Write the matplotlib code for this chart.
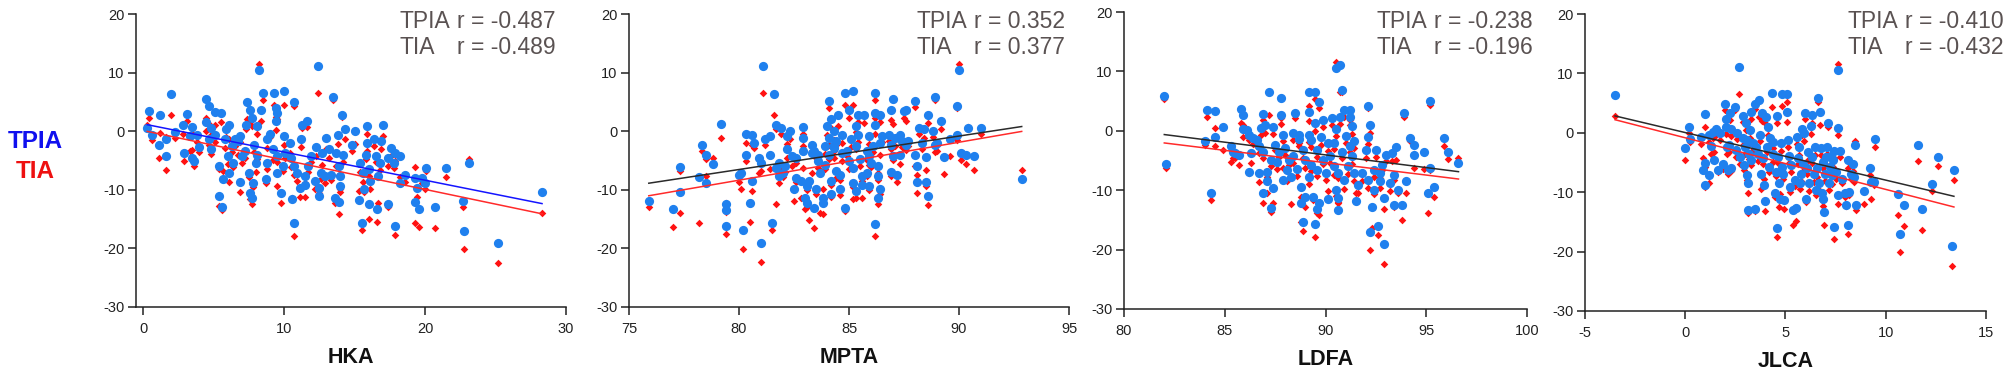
import matplotlib
matplotlib.use("Agg")
import matplotlib.pyplot as plt
import numpy as np

plt.rcParams["font.family"] = ["Liberation Sans", "DejaVu Sans"]
plt.rcParams["axes.unicode_minus"] = False  # plain hyphen for negative ticks

# --- data: one (x, TPIA, TIA) triple per knee ---
hka = [0.3, 0.4, 0.6, 1.2, 1.1, 1.6, 1.6, 2.0, 2.3, 2.8, 2.9, 3.1, 3.3, 3.5, 3.5, 3.6, 3.8, 4.0,
       4.5, 4.7, 4.5, 4.8, 4.8, 5.1, 4.7, 5.1, 5.4, 5.4, 5.5, 5.6, 5.7, 5.8, 5.9, 6.0, 6.1, 6.1,
       6.3, 6.4, 6.5, 6.7, 6.9, 6.9, 7.0, 7.2, 7.3, 7.4, 7.5, 7.6, 7.7, 7.6, 7.7, 7.8, 7.9, 8.0,
       8.1, 8.2, 8.1, 8.4, 8.5, 8.7, 8.8, 8.8, 9.0, 9.2, 9.3, 9.4, 9.4, 9.5, 9.5, 9.5, 9.8, 10.0,
       10.0, 9.9, 10.1, 10.4, 10.5, 10.6, 10.7, 10.7, 10.7, 10.9, 11.1, 11.2, 11.3, 11.5, 11.5,
       11.6, 11.7, 11.9, 12.2, 12.3, 12.4, 12.5, 12.5, 12.6, 12.7, 12.9, 13.0, 13.2, 13.3, 13.5,
       13.6, 13.7, 13.8, 13.9, 13.9, 14.0, 14.0, 14.1, 14.2, 14.3, 14.8, 15.0, 15.3, 15.4, 15.5,
       15.6, 15.7, 15.8, 15.9, 15.9, 16.0, 16.0, 16.1, 16.4, 16.5, 16.6, 16.7, 16.8, 16.9, 17.0,
       17.4, 17.4, 17.6, 17.8, 17.9, 17.9, 18.2, 18.2, 18.6, 19.3, 19.3, 19.4, 19.6, 19.8, 20.0,
       20.1, 20.7, 21.5, 22.7, 22.8, 23.1, 25.2, 28.3]
hka_tpia = [0.6, 3.4, -0.6, 2.8, -2.4, -1.3, -4.3, 6.4, -0.1, 1.1, -3.7, 3.0, -0.9, 0.7, -4.5, -5.1, -0.6, -2.7,
            5.5, 4.3, 1.5, 0.6, -3.1, 3.3, -1.4, -0.6, -6.0, -11.1, 3.1, -13.0, -8.2, -1.4, 0.3, -4.3, 1.1, -7.1,
            -2.6, -5.4, -1.4, -1.7, -0.9, -8.7, -4.3, -3.4, 1.0, 4.9, -7.1, 3.7, 2.3, -10.5, -11.4, -8.8, -2.3, -5.4,
            0.9, 10.5, -4.0, 3.7, 6.6, -8.2, -5.4, -1.4, -0.4, -3.1, 6.6, 4.0, 1.7, 3.1, -7.1, -4.3, -10.5, 6.8,
            -0.9, -6.0, -3.7, -2.0, -4.5, -11.5, -15.7, 5.0, -6.0, -7.1, -9.7, -1.4, 1.1, -7.7, -9.1,
            1.7, -6.0, -4.3, -8.5, -2.7, 11.1, -9.7, -11.1, -7.1, -3.8, -7.7, -1.1, -3.1, -7.4, 5.9,
            -11.4, -3.7, -0.7, -6.0, -12.0, -7.7, -9.4, 2.8, -4.0, 0.4, -2.3, 0.0, -11.8, -5.4, -15.6,
            -7.2, -9.9, -4.0, 0.9, -2.0, -12.5, -6.5, -8.5, -1.4, -4.3, -13.2, -7.7, -5.4, -1.7, 1.1,
            -4.5, -12.5, -2.8, -5.4, -16.1, -3.7, -4.3, -8.8, -7.4, -12.1, -8.0, -9.7, -13.2, -8.0, -8.8,
            -6.2, -12.9, -6.2, -11.9, -17.0, -5.5, -19.1, -10.3]
hka_tia = [1.0, 2.3, -1.5, -0.3, -4.5, -1.0, -6.6, 2.8, -1.2, -0.5, -5.0, 1.8, -3.3, -0.3, -3.2, -5.9, -1.8, -3.5,
           2.2, 1.3, 0.1, -0.6, -3.9, 1.0, -2.3, -1.9, -6.5, -12.8, 1.6, -13.4, -6.8, -2.8, -1.0, -5.6, -1.3, -8.6,
           -3.6, -6.1, -2.6, -4.0, -1.9, -10.4, -5.5, -4.5, 0.4, 2.1, -7.9, 1.6, 0.9, -11.6, -12.4, -9.6, -3.6, -6.9,
           -0.4, 11.5, -4.8, 1.8, 5.3, -8.8, -6.5, -2.9, -1.0, -4.9, 4.4, 2.5, 0.2, 2.0, -9.4, -5.2, -12.2, 4.4,
           -2.3, -6.8, -4.6, -3.8, -6.1, -11.4, -17.8, 4.3, -7.4, -8.5, -11.2, -2.7, 0.5, -8.9, -11.3,
           0.8, -6.9, -5.3, -9.9, -4.2, 6.6, -10.6, -11.0, -8.2, -5.7, -8.9, -3.0, -4.6, -8.4, 5.4,
           -12.3, -6.0, -2.2, -7.5, -14.1, -9.9, -10.4, 2.4, -5.2, -1.3, -3.4, -2.1, -10.2, -7.0, -16.9,
           -8.6, -10.4, -4.8, -0.5, -3.4, -14.9, -7.6, -9.9, -2.6, -5.3, -15.5, -12.3, -6.6, -3.0, -0.9,
           -5.9, -12.9, -4.2, -6.3, -17.7, -5.0, -7.8, -8.8, -8.6, -15.6, -6.1, -11.2, -16.3, -8.9, -9.8,
           -6.8, -16.5, -7.9, -12.9, -20.1, -4.7, -22.5, -13.9]

mpta = [75.9, 77.0, 77.3, 77.3, 78.2, 78.3, 78.5, 78.5, 78.8, 79.2, 79.4, 79.4, 79.4, 80.0, 80.1, 80.2,
        80.3, 80.3, 80.6, 80.6, 80.5, 80.7, 80.9, 81.0, 81.0, 81.1, 81.2, 81.4, 81.4, 81.5, 81.6, 81.7,
        81.7, 81.8, 81.8, 81.9, 82.0, 82.1, 82.2, 82.2, 82.3, 82.4, 82.5, 82.6, 82.6, 82.8, 82.9, 82.9,
        82.9, 83.0, 83.1, 83.1, 83.2, 83.3, 83.3, 83.4, 83.4, 83.5, 83.6, 83.6, 83.7, 83.8, 83.8, 83.9,
        83.9, 84.0, 84.1, 84.1, 84.1, 84.2, 84.2, 84.2, 84.3, 84.3, 84.4, 84.3, 84.4, 84.5, 84.6, 84.6,
        84.7, 84.7, 84.8, 84.8, 84.9, 85.0, 85.0, 85.1, 85.2, 85.2, 85.2, 85.3, 85.3, 85.3, 85.4, 85.4,
        85.5, 85.6, 85.6, 85.7, 85.8, 85.8, 85.9, 85.9, 85.9, 86.0, 86.1, 86.2, 86.2, 86.2, 86.2, 86.3,
        86.3, 86.3, 86.4, 86.4, 86.4, 86.5, 86.8, 86.9, 86.9, 87.0, 86.9, 87.0, 87.1, 87.2, 87.3, 87.3,
        87.4, 87.5, 87.6, 87.6, 87.7, 88.0, 88.0, 88.1, 88.1, 88.2, 88.3, 88.4, 88.5, 88.5, 88.6, 88.6,
        88.8, 88.9, 88.9, 89.0, 89.2, 89.3, 89.6, 89.9, 89.9, 90.0, 90.1, 90.3, 90.4, 90.7, 91.0, 92.85]
mpta_tpia = [-11.9, -13.2, -6.1, -10.3, -7.8, -2.3, -4.1, -8.9, -5.6, 1.3, -12.5, -13.4, -16.1, -7.4, -7.2, -16.9,
             -4.1, -0.5, -0.6, -8.5, -12.2, -2.0, -4.5, -5.4, -19.1, 11.1, -1.4, -4.0, -0.9, -15.6, 6.4, 1.1,
             -6.3, -7.7, -5.4, 0.6, -7.1, -6.0, -0.9, -3.1, 0.0, -4.3, -9.9, -8.0, -4.5, -8.5, -3.4, 0.7,
             -1.1, -11.4, -9.4, -12.2, -8.5, -2.3, -3.7, -13.1, -3.4, -9.9, -4.0, -5.1, -7.2, -11.4, -12.2, -5.7,
             -2.6, 0.9, 5.1, -4.0, -1.1, -8.5, -10.8, 2.0, -2.3, -2.8, -6.8, 0.0, -1.7, 2.8, -9.9, -7.4,
             -3.8, -0.7, 6.6, -13.1, -3.4, -5.1, 3.7, -1.4, -6.3, -8.8, 6.8, 0.9, -10.2, -2.6, 2.8, -0.6,
             -4.8, -7.7, -9.1, 2.8, -3.4, -7.1, -0.9, -9.4, -4.3, -5.4, -2.6, 1.0, 6.5, -15.8, 3.1, -11.4,
             -6.0, -7.7, -2.0, 2.7, -9.9, -0.9, -0.6, -2.3, -7.0, 5.5, 3.7, -4.3, -1.1, -7.4, -0.6, -4.0,
             -1.7, 3.4, 3.7, -2.3, -1.7, 5.1, -4.1, -6.0, -8.7, 0.6, -2.0, 0.3, -4.4, -8.7, -11.1, 2.8,
             0.0, 5.9, -2.4, -2.0, 1.7, -4.4, -1.3, 4.3, -0.6, 10.5, -3.7, -4.0, 0.6, -4.3, 0.6, -8.1]
mpta_tia = [-12.9, -16.4, -6.8, -13.9, -15.6, -3.4, -4.8, -7.7, -4.5, -1.1, -12.3, -13.8, -17.6, -8.7, -9.8, -20.1,
            -5.1, -2.0, -2.3, -10.2, -15.5, -2.8, -7.1, -6.8, -22.4, 6.5, -2.3, -6.5, -0.9, -16.9, 2.8, 0.3,
            -12.5, -8.8, -6.2, -0.4, -7.9, -6.9, -2.1, -4.5, -1.4, -6.0, -11.9, -8.6, -5.4, -11.4, -6.2, -0.5,
            -2.6, -13.2, -10.0, -12.9, -15.1, -3.3, -7.1, -16.5, -4.2, -10.8, -5.0, -6.3, -13.9, -9.9, -14.1, -6.4,
            -3.9, -0.6, 4.0, -4.8, -2.3, -9.1, -11.3, 0.6, -3.4, -4.6, -8.0, -1.5, -2.4, 0.9, -10.9, -8.3,
            -5.0, -2.0, 4.4, -13.6, -4.3, -6.5, 2.2, -2.7, -11.6, -9.6, 4.4, -0.2, -11.4, -3.0, 1.5, -1.8,
            -5.9, -8.5, -11.4, 1.4, -4.9, -7.6, -2.2, -10.0, -5.8, -6.1, -3.5, -0.5, 5.3, -17.8, 2.2, -12.5,
            -7.1, -8.4, -4.0, 1.6, -10.7, -1.9, -1.6, -3.1, -7.6, 1.3, 1.9, -4.9, -2.5, -8.7, -1.6, -5.6,
            -2.7, 2.2, 1.8, -3.2, -2.6, 4.2, -5.9, -7.5, -10.5, -0.5, -3.0, -1.1, -6.7, -9.4, -12.6, 1.4,
            -1.0, 5.3, -3.6, -3.4, 0.3, -7.3, -4.2, 3.9, -1.5, 11.5, -4.9, -5.6, 0.8, -6.6, -0.5, -6.7]

ldfa = [82.0, 82.1, 84.0, 84.1, 84.3, 84.5, 84.5, 84.9, 85.3, 85.4, 85.5, 85.7, 85.8, 85.9, 85.9, 86.1,
        86.2, 86.2, 86.3, 86.4, 86.6, 86.7, 86.7, 86.8, 86.9, 86.9, 86.9, 87.0, 87.1, 87.1, 87.2, 87.3,
        87.3, 87.4, 87.4, 87.5, 87.6, 87.7, 87.8, 87.8, 87.9, 87.9, 88.0, 88.1, 88.2, 88.3, 88.4, 88.4,
        88.5, 88.6, 88.7, 88.7, 88.8, 88.8, 88.9, 88.9, 89.0, 89.0, 89.2, 89.2, 89.2, 89.2, 89.3, 89.3,
        89.4, 89.5, 89.5, 89.5, 89.6, 89.6, 89.6, 89.7, 89.7, 89.8, 89.9, 89.9, 90.0, 90.1, 90.1, 90.2,
        90.3, 90.4, 90.4, 90.5, 90.5, 90.5, 90.6, 90.6, 90.6, 90.7, 90.7, 90.8, 90.8, 90.9, 90.9, 91.0,
        91.1, 91.2, 91.2, 91.2, 91.3, 91.3, 91.4, 91.4, 91.5, 91.6, 91.8, 92.0, 92.1, 92.1, 92.1, 92.2,
        92.2, 92.3, 92.4, 92.4, 92.5, 92.6, 92.7, 92.7, 92.8, 92.9, 92.9, 93.0, 93.2, 93.3, 93.4, 93.4,
        93.5, 93.6, 93.8, 93.9, 94.0, 94.2, 94.4, 94.4, 94.9, 95.1, 95.2, 95.2, 95.4, 95.9, 96.1, 96.6]
ldfa_tpia = [5.9, -5.6, -1.8, 3.5, -10.4, 3.3, -1.0, 0.7, -2.6, -3.5, -3.8, -4.0, 3.7, 2.7, 0.3, 0.2,
             -6.9, -0.7, -3.8, -1.2, -1.5, -2.6, -7.1, 0.4, 2.9, -10.4, -3.5, 1.0, -8.5, -7.0, 6.5, -4.9,
             -13.0, -9.7, 0.6, -2.4, -5.3, -3.5, 5.5, 2.7, -0.7, -8.3, -2.9, -6.6, -4.9, -7.7, -0.4, -4.3,
             3.0, -6.5, -1.4, -0.7, -9.4, -12.1, -15.4, -3.2, -4.9, -11.1, -0.7, 6.5, 3.1, -7.7, -1.5, -5.7,
             -11.1, 6.5, 1.3, -15.7, -13.2, -3.2, -6.6, 4.9, -12.1, -1.0, 1.9, -4.9, -7.1, -2.1, -11.5, -4.3,
             2.1, -6.0, -2.1, 10.6, 0.3, -9.9, -7.1, -13.3, -11.3, 11.0, 2.4, 6.8, -3.5, -8.3, 3.5, -0.8,
             -6.0, -2.6, 3.5, 2.4, 0.8, -4.3, -7.1, -1.8, -11.9, -9.1, -7.1, -3.2, -8.3, 4.2, -1.0, -17.0,
             1.0, -12.9, -6.6, -9.9, -3.2, -16.1, -7.1, -8.5, -5.7, -19.1, -11.3, -4.0, -8.8, -3.8, -7.4, -12.5,
             -2.8, -9.9, -12.5, 3.0, -8.5, -1.2, -2.4, -4.0, -3.5, -10.4, 5.1, -6.3, -9.5, -1.2, -3.5, -5.4]
ldfa_tia = [5.3, -6.3, -2.4, 2.4, -11.6, 0.4, -2.5, -3.2, -5.2, -4.5, -4.6, -5.7, 1.3, 0.9, -1.0, -0.8,
            -7.1, -1.6, -5.5, -2.3, -2.6, -3.8, -8.7, -0.7, 1.9, -12.2, -4.6, -0.3, -10.5, -7.8, 2.7, -5.9,
            -13.6, -12.1, -0.5, -3.3, -6.4, -4.4, 2.1, 1.2, -1.8, -6.3, -4.1, -8.5, -5.7, -12.3, -1.6, -5.4,
            2.1, -7.6, -2.5, -2.0, -11.1, -15.4, -16.8, -4.5, -6.2, -12.8, -1.9, 4.2, 1.7, -8.9, -2.7, -6.7,
            -11.6, 5.3, -0.1, -17.8, -13.9, -4.4, -7.6, 3.8, -14.2, -2.4, 0.6, -5.6, -8.3, -3.4, -10.2, -5.4,
            0.9, -7.4, -3.1, 11.5, -0.9, -10.9, -8.0, -12.2, -12.0, 6.6, 1.2, 6.5, -4.6, -9.8, 2.4, -2.1,
            -7.3, -3.6, 1.8, 1.0, -0.6, -5.6, -8.4, -2.9, -10.4, -10.4, -8.5, -4.6, -9.7, 3.9, -2.3, -20.1,
            -0.4, -16.4, -7.8, -10.6, -4.4, -17.5, -8.0, -9.6, -6.6, -22.4, -13.2, -5.1, -10.2, -5.0, -8.3, -12.9,
            -4.9, -10.5, -15.0, 2.4, -10.4, -1.7, -3.9, -6.3, -6.4, -13.9, 4.4, -6.6, -11.2, -2.6, -4.8, -4.6]

jlca = [-3.5, 0.0, 0.2, 0.25, 0.8, 0.9, 1.0, 1.0, 1.0, 1.2, 1.2, 1.3, 1.4, 1.45, 1.55, 1.65, 1.75, 1.9,
        2.0, 2.05, 2.05, 2.1, 2.15, 2.2, 2.25, 2.3, 2.3, 2.5, 2.55, 2.6, 2.7, 2.75, 2.9, 2.9, 2.95, 3.0,
        3.05, 3.1, 3.1, 3.15, 3.15, 3.2, 3.25, 3.3, 3.3, 3.4, 3.5, 3.5, 3.55, 3.65, 3.7, 3.75, 3.8, 3.85,
        3.9, 3.95, 4.0, 4.05, 4.1, 4.15, 4.2, 4.25, 4.35, 4.4, 4.4, 4.5, 4.55, 4.6, 4.6, 4.65, 4.7, 4.75,
        4.8, 4.85, 4.85, 4.9, 4.95, 5.05, 5.05, 5.1, 5.15, 5.2, 5.25, 5.35, 5.45, 5.5, 5.55, 5.6, 5.65,
        5.7, 5.75, 5.8, 5.85, 5.9, 5.95, 6.0, 6.05, 6.1, 6.15, 6.25, 6.3, 6.3, 6.4, 6.45, 6.5, 6.55, 6.6,
        6.65, 6.7, 6.75, 6.8, 6.85, 6.85, 6.9, 6.95, 7.0, 7.05, 7.1, 7.15, 7.2, 7.25, 7.3, 7.35, 7.4,
        7.4, 7.5, 7.6, 7.6, 7.6, 7.7, 7.8, 7.95, 8.0, 8.1, 8.1, 8.15, 8.25, 8.35, 8.4, 8.45, 8.5, 8.9,
        9.2, 9.25, 9.4, 9.45, 10.6, 10.7, 10.9, 11.6, 11.8, 12.3, 12.6, 13.3, 13.4]
jlca_tpia = [6.3, -2.5, 1.0, -1.1, -0.7, -6.2, 3.1, -5.1, -8.8, -0.4, -7.1, -2.2, 0.2, -4.6, 0.7, -6.3, -0.1, -5.2,
             4.9, 1.0, 2.4, -2.4, -6.3, -2.1, 3.3, 0.7, -6.0, 4.3, -2.9, 0.0, 11.0, -4.0, 2.8, -0.8, -5.4, -2.4,
             1.6, -7.1, -1.2, -8.5, -13.0, -3.5, 0.4, 3.5, -4.6, -1.8, -12.8, 4.9, -2.4, -3.5, 5.5, -0.4, -6.9, 3.3,
             -4.3, -8.8, -11.5, 2.7, -2.4, 1.0, -5.7, -0.8, 6.7, -3.5, -1.5, -10.1, -6.6, 2.8, -16.1, -4.0, -8.4, -11.2,
             -1.8, 6.6, -5.7, -6.9, -11.3, 3.5, 6.6, -1.2, -3.9, -9.1, -5.4, -13.0, -8.0, -12.6, -0.7, -4.3, -2.4,
             -8.5, -6.9, 0.7, -5.2, 0.0, 3.3, -11.2, -6.0, -3.2, -8.4, 1.1, 3.0, -4.0, -6.9, -2.4, -9.6, -6.0, 5.8,
             -8.4, 3.5, -2.6, -10.2, -11.2, -4.9, -13.3, -6.9, -4.0, -2.4, 1.7, -8.5, -5.7, -3.9, -7.1, -4.5, -15.8,
             -3.0, -6.6, 0.8, 10.5, -10.5, -3.0, -7.7, -10.1, -12.2, -15.6, -4.5, -9.9, -6.9, -5.2, -7.4, -2.1, -12.1, -9.8,
             -6.0, -8.3, -8.3, -1.1, -10.3, -17.0, -12.2, -2.1, -12.9, -8.7, -4.0, -19.1, -6.3]
jlca_tia = [2.8, -4.6, 0.0, -1.6, -1.9, -4.3, 1.0, -5.8, -9.2, -1.5, -8.5, -3.5, -0.8, -3.2, -0.3, -6.6, -1.2, -6.1,
            3.8, -0.2, 1.1, -3.5, -6.9, -3.3, 2.2, -0.6, -6.4, 3.9, -4.1, -1.1, 6.5, -5.2, 1.9, -2.0, -6.3, -3.6,
            0.4, -8.0, -2.3, -10.2, -13.5, -4.4, -0.9, 2.4, -5.5, -2.9, -13.1, 4.0, -3.3, -4.7, 2.6, -1.4, -9.4, 2.0,
            -5.3, -7.8, -13.1, 1.5, -3.2, -0.3, -6.6, -1.9, 4.3, -4.9, -2.6, -10.8, -7.3, 1.6, -17.6, -5.0, -12.5, -10.3,
            -3.1, 4.5, -6.3, -7.7, -12.8, 1.9, 5.2, -2.4, -5.1, -9.9, -6.6, -15.6, -8.9, -14.8, -1.9, -5.3, -3.8,
            -9.5, -8.1, -0.4, -6.4, -1.3, 2.3, -11.6, -7.0, -4.5, -9.8, -0.2, 1.7, -5.1, -8.2, -3.7, -10.4, -7.4, 5.2,
            -9.6, 1.3, -3.8, -11.3, -12.4, -6.0, -15.6, -8.1, -5.4, -3.6, 0.9, -9.7, -6.9, -5.2, -8.6, -5.8, -17.8,
            -4.2, -7.8, -0.4, 11.5, -12.0, -4.1, -8.4, -10.8, -12.4, -17.0, -5.9, -10.5, -7.8, -6.5, -8.2, -1.3, -13.0, -12.0,
            -7.1, -11.2, -8.8, -2.4, -13.9, -20.1, -15.7, -4.7, -16.4, -9.8, -5.6, -22.4, -7.9]

panels = [
    ("HKA", hka, hka_tpia, hka_tia, (-0.5, 30), [0, 10, 20, 30]),
    ("MPTA", mpta, mpta_tpia, mpta_tia, (75, 95), [75, 80, 85, 90, 95]),
    ("LDFA", ldfa, ldfa_tpia, ldfa_tia, (80, 100), [80, 85, 90, 95, 100]),
    ("JLCA", jlca, jlca_tpia, jlca_tia, (-5, 15), [-5, 0, 5, 10, 15]),
]
r_tpia = ["-0.487", "0.352", "-0.238", "-0.410"]
r_tia = ["-0.489", "0.377", "-0.196", "-0.432"]

# layout in pixels of the 2008x373 canvas: (left, top, width, bottom)
W, H = 2008, 373
boxes = [(136, 14, 430, 307), (629, 14, 440, 307), (1124, 12, 403, 309), (1585, 14, 401, 311)]
text_left = [400, 917, 1377, 1848]

BLUE_PT = "#1f80ee"
RED_PT = "#ff1212"
GREY_TXT = "#5a5252"


def main() -> None:
    fig = plt.figure(figsize=(W / 100, H / 100), dpi=100)

    for i, (name, x, tpia, tia, xlim, xticks) in enumerate(panels):
        left, top, width, bottom = boxes[i]
        ax = fig.add_axes([left / W, 1 - bottom / H, width / W, (bottom - top) / H])
        x = np.asarray(x)
        tpia = np.asarray(tpia)
        tia = np.asarray(tia)

        ax.scatter(x, tia, marker="D", s=15, color=RED_PT, linewidths=0, zorder=2)
        ax.scatter(x, tpia, marker="o", s=44, color=BLUE_PT, linewidths=0, zorder=3)

        # least-squares fit lines over the observed range
        xx = np.array([x.min(), x.max()])
        line_col = "#1414ff" if i == 0 else "#2a2a2a"
        for y, col in ((tpia, line_col), (tia, "#ff2a2a")):
            k, b = np.polyfit(x, y, 1)
            ax.plot(xx, k * xx + b, color=col, lw=1.1, zorder=4)

        ax.set_xlim(*xlim)
        ax.set_ylim(-30, 20)
        ax.set_xticks(xticks)
        ax.set_yticks([-30, -20, -10, 0, 10, 20])
        for side in ("top", "right"):
            ax.spines[side].set_visible(False)
        for side in ("left", "bottom"):
            ax.spines[side].set_linewidth(1.1)
            ax.spines[side].set_color("#222222")
        ax.tick_params(direction="out", length=5.5, width=1.1, color="#222222",
                       labelsize=10.5, labelcolor="#222222", pad=3)
        ax.tick_params(axis="x", pad=5)
        ax.set_xlabel(name, fontsize=15.5, fontweight="bold", color="#111111")
        ax.xaxis.set_label_coords(0.5, -0.135)

        tx = text_left[i]
        fig.text(tx / W, 1 - 21 / H, "TPIA", fontsize=16.5, color=GREY_TXT, va="center")
        fig.text((tx + 57) / W, 1 - 21 / H, "r = " + r_tpia[i], fontsize=16.5, color=GREY_TXT, va="center")
        fig.text(tx / W, 1 - 47 / H, "TIA", fontsize=16.5, color=GREY_TXT, va="center")
        fig.text((tx + 57) / W, 1 - 47 / H, "r = " + r_tia[i], fontsize=16.5, color=GREY_TXT, va="center")

    fig.text(35 / W, 1 - 142 / H, "TPIA", fontsize=17.5, fontweight="bold", color="#1010ee",
             ha="center", va="center")
    fig.text(35 / W, 1 - 171 / H, "TIA", fontsize=17.5, fontweight="bold", color="#ee1010",
             ha="center", va="center")

    fig.savefig("out.png", dpi=100)


if __name__ == "__main__":
    main()
